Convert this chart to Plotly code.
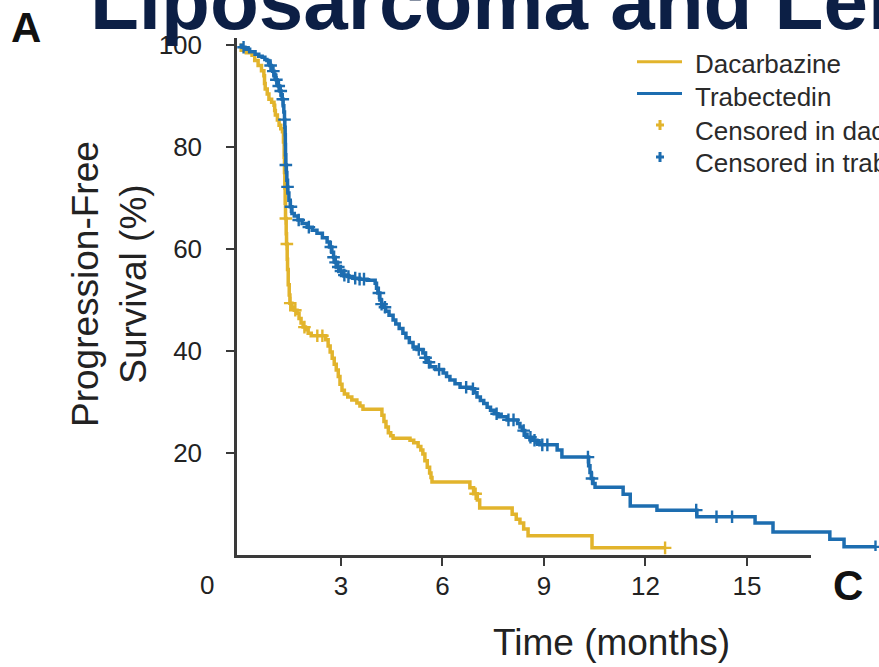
import numpy as np
import plotly.graph_objects as go

# Kaplan-Meier progression-free survival, post-event step values (months, %)
dacarbazine_t = [0, 0.05, 0.2, 0.37, 0.45, 0.55, 0.65, 0.72, 0.74, 0.76, 0.82, 0.87, 0.95, 1.02, 1.04, 1.06,
                 1.12, 1.17, 1.22, 1.27, 1.30, 1.32, 1.33, 1.34, 1.35, 1.36, 1.38, 1.39, 1.41, 1.42, 1.44, 1.47,
                 1.49, 1.55, 1.62, 1.70, 1.76, 1.82, 1.88, 1.95, 2.03, 2.12, 2.55, 2.62, 2.68, 2.74, 2.80, 2.86,
                 2.92, 2.97, 3.03, 3.10, 3.20, 3.32, 3.47, 3.56, 3.65, 4.21, 4.27, 4.33, 4.40, 4.47, 4.54, 5.04,
                 5.15, 5.28, 5.36, 5.42, 5.48, 5.55, 5.62, 5.66, 5.69, 6.81, 6.92, 7.03, 7.10, 8.06, 8.18, 8.29,
                 8.40, 8.53, 10.42, 12.58]
dacarbazine_s = [100, 99.0, 98.5, 98, 97, 96, 95, 94, 92.5, 91.4, 90.4, 89.4, 88.8, 88.2, 87.2, 86.3,
                 85.3, 84.3, 83.6, 83, 81, 78, 75, 72, 69, 66, 63, 61, 58, 56, 53, 51,
                 49.4, 48.6, 48, 47.4, 46.4, 45.5, 44.7, 44.2, 43.5, 43, 42.2, 41, 39.8, 38.6, 37.4, 36.3,
                 35, 33.5, 32.3, 31.6, 31, 30.4, 29.8, 29.2, 28.6, 27.4, 26.2, 25.1, 24, 23.4, 22.9, 22.5,
                 22, 21.3, 20.6, 19.8, 18.5, 17.2, 16.1, 15.2, 14.3, 13.2, 12, 10.8, 9.2, 8.0, 7.0, 6.3,
                 5.1, 3.8, 1.4, 1.4]
dacarbazine_censored = [1.37, 1.40, 1.50, 1.65, 1.92, 2.30, 2.45, 6.98, 12.58]

trabectedin_t = [0, 0.08, 0.16, 0.30, 0.46, 0.57, 0.67, 0.75, 0.81, 0.86, 0.90, 0.94, 0.98, 1.02, 1.05, 1.08,
                 1.11, 1.15, 1.18, 1.20, 1.23, 1.26, 1.29, 1.31, 1.33, 1.34, 1.35, 1.355, 1.36, 1.37, 1.385, 1.40,
                 1.42, 1.43, 1.46, 1.50, 1.55, 1.62, 1.73, 1.85, 2.00, 2.15, 2.29, 2.45, 2.59, 2.66, 2.73, 2.78,
                 2.83, 2.88, 2.95, 3.06, 3.20, 3.35, 3.55, 3.77, 4.01, 4.05, 4.09, 4.15, 4.20, 4.24, 4.32, 4.42,
                 4.54, 4.62, 4.72, 4.83, 4.92, 5.02, 5.13, 5.25, 5.42, 5.50, 5.56, 5.63, 5.80, 6.02, 6.12, 6.22,
                 6.37, 6.52, 6.87, 6.95, 7.02, 7.12, 7.22, 7.32, 7.42, 7.53, 7.64, 7.91, 8.22, 8.29, 8.36, 8.43,
                 8.50, 8.65, 8.79, 8.88, 9.39, 9.53, 10.32, 10.36, 10.40, 10.45, 10.51, 11.34, 11.55, 12.34, 13.52, 15.24,
                 15.77, 17.45, 17.87, 18.80]
trabectedin_s = [100, 99.6, 99.2, 98.7, 98.2, 97.8, 97.6, 97.2, 97, 96.5, 96, 95.4, 94.9, 94.3, 93.6, 93.2,
                 92.7, 92, 91.5, 91, 90.2, 89.4, 88.1, 86.9, 85.4, 83.9, 82.4, 80.5, 78.5, 76.5, 75, 73.5,
                 72.2, 71, 69.6, 68.3, 67, 66.5, 65.7, 65, 64.3, 63.7, 63.1, 62.2, 61.4, 60.4, 59.4, 58.4,
                 57.4, 56.5, 55.7, 54.9, 54.6, 54.3, 54.1, 53.9, 53.3, 52.3, 51.4, 50, 49.2, 48.6, 47.8, 47,
                 46.1, 45.3, 44.4, 43.5, 42.6, 41.7, 40.8, 40.3, 39.6, 38.7, 37.8, 36.9, 36.4, 35.7, 35, 34.3,
                 33.6, 32.9, 32.6, 31.8, 31, 30.3, 29.7, 29, 28.4, 27.7, 27.1, 26.5, 25.8, 25.1, 24.4, 23.7,
                 23.1, 22.5, 22, 21.6, 20.6, 19.2, 17.5, 16.2, 15, 14, 13.3, 11.9, 9.6, 8.8, 7.5, 6.3,
                 4.5, 3.1, 1.6, 1.6]
trabectedin_censored = [0.12, 0.92, 1.0, 1.09, 1.16, 1.22, 1.28, 1.33, 1.37, 1.42, 1.52, 1.75, 2.05, 2.70, 2.78,
                        2.84, 2.92, 3.0, 3.1, 3.22, 3.42, 3.55, 3.68, 4.12, 4.2, 4.3, 5.3, 5.5, 5.6, 5.9, 6.7,
                        6.9, 7.6, 7.95, 8.1, 8.4, 8.6, 8.72, 8.95, 9.1, 10.3, 10.42, 13.5, 14.1, 14.56, 18.8]

x_ticks = [3, 6, 9, 12, 15]
y_ticks = [20, 40, 60, 80, 100]
legend_labels = ["Dacarbazine", "Trabectedin", "Censored in dacarbazine", "Censored in trabectedin"]

GOLD = "#E2B42C"
BLUE = "#1D6DB0"
AXIS = "#3a3a3a"
FONT = "Liberation Sans, Arial, Helvetica, sans-serif"

W, H = 879, 667
L, R, T, B = 237, 0, 38, 112


def px(x):
    return (x - L) / (W - L - R)


def py(y):
    return (H - B - y) / (H - B - T)


def surv_at(times, surv, when):
    idx = np.searchsorted(np.asarray(times), np.asarray(when), side="right") - 1
    return np.asarray(surv)[idx]


fig = go.Figure()
for name, t, s, cens, col in [
    ("Dacarbazine", dacarbazine_t, dacarbazine_s, dacarbazine_censored, GOLD),
    ("Trabectedin", trabectedin_t, trabectedin_s, trabectedin_censored, BLUE),
]:
    fig.add_trace(go.Scatter(x=t, y=s, mode="lines", name=name,
                             line=dict(color=col, width=3.5, shape="hv"), showlegend=False))
    fig.add_trace(go.Scatter(x=cens, y=surv_at(t, s, cens), mode="markers",
                             name="Censored in " + name.lower(), showlegend=False,
                             marker=dict(symbol="cross-thin", size=9, color=col,
                                         line=dict(color=col, width=2.4))))

fig.update_layout(
    width=W, height=H, margin=dict(l=L, r=R, t=T, b=B),
    paper_bgcolor="white", plot_bgcolor="white",
    showlegend=False,
)
fig.update_xaxes(range=[-2.5 / 33.83, (W - 239.5) / 33.83], tickvals=x_ticks,
                 showline=True, linecolor=AXIS, linewidth=2.5, ticks="outside",
                 ticklen=8, tickwidth=2, tickcolor=AXIS, showgrid=False, zeroline=False,
                 tickfont=dict(family=FONT, size=26, color="#222"), ticklabelstandoff=-2)
fig.update_yaxes(range=[0, 101.4], tickvals=y_ticks,
                 showline=True, linecolor=AXIS, linewidth=2.5, ticks="outside",
                 ticklen=8, tickwidth=2, tickcolor=AXIS, showgrid=False, zeroline=False,
                 tickfont=dict(family=FONT, size=26, color="#222"), ticklabelstandoff=19)


def label(text, x, y, size, color="#222", anchor="center", **kw):
    return dict(text=text, x=px(x), y=py(y), xref="paper", yref="paper", xanchor=anchor,
                yanchor="middle", showarrow=False, font=dict(family=FONT, size=size, color=color), **kw)


ann = [
    # heading running off the top edge
    label("<b>Liposarcoma and Leiomyosarcoma</b>", 88, 1, 80, "#0C1F45", "left"),
    label("<b>A</b>", 9, 27, 42, "#111", "left"),
    label("<b>C</b>", 831, 585, 42, "#111", "left"),
    label("0", 207, 585, 26),
    label("Time (months)", 611, 642, 37),
    label("Progression-Free<br>Survival (%)", 109, 284, 37, textangle=-90),
]

# legend block
legend_y = [64.5, 97.5, 131, 163]
mark_y = [61.7, 93.5, 125, 157]
legend_cols = [GOLD, BLUE, GOLD, BLUE]
shapes = []
for i, (lab, ty, my, col) in enumerate(zip(legend_labels, legend_y, mark_y, legend_cols)):
    ann.append(label(lab, 693, ty, 26, "#2a2a2a", "left"))
    if i < 2:
        shapes.append(dict(type="line", xref="paper", yref="paper", x0=px(637), x1=px(682),
                           y0=py(my), y1=py(my), line=dict(color=col, width=3)))
    else:
        path = (f"M{px(656)},{py(my)} L{px(664)},{py(my)} "
                f"M{px(660)},{py(my - 5)} L{px(660)},{py(my + 5)}")
        shapes.append(dict(type="path", xref="paper", yref="paper", path=path,
                           line=dict(color=col, width=3)))

# neighbouring panel occupies the lower-right corner
shapes.append(dict(type="rect", xref="paper", yref="paper", x0=px(811), x1=px(W + 5),
                   y0=py(551), y1=py(H + 5), fillcolor="white", line=dict(width=0), layer="above"))

fig.update_layout(annotations=ann, shapes=shapes)
fig.write_html("out.html")
